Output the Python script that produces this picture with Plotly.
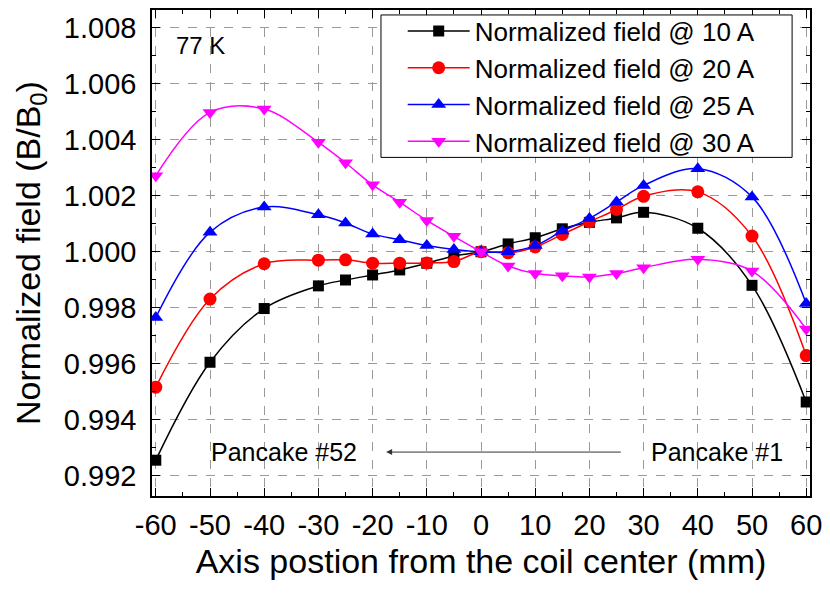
import plotly.graph_objects as go

positions = [-60, -50, -40, -30, -25, -20, -15, -10, -5, 0, 5, 10, 15, 20, 25, 30, 40, 50, 60]

field_10A = [0.99255, 0.99605, 0.99797, 0.99878, 0.99899, 0.99917, 0.99935, 0.99959, 0.99985, 1.00000,
             1.00028, 1.00050, 1.00082, 1.00105, 1.00121, 1.00141, 1.00084, 0.99880, 0.99463]
field_20A = [0.99516, 0.99831, 0.99957, 0.99970, 0.99971, 0.99959, 0.99959, 0.99960, 0.99965, 1.00000,
             0.99996, 1.00017, 1.00062, 1.00107, 1.00151, 1.00198, 1.00214, 1.00056, 0.99629]
field_25A = [0.99765, 1.00070, 1.00160, 1.00132, 1.00103, 1.00063, 1.00043, 1.00022, 1.00008, 1.00000,
             1.00000, 1.00022, 1.00074, 1.00119, 1.00178, 1.00237, 1.00297, 1.00196, 0.99815]
field_30A = [1.00272, 1.00498, 1.00510, 1.00391, 1.00318, 1.00239, 1.00177, 1.00112, 1.00055, 1.00000,
             0.99949, 0.99922, 0.99914, 0.99910, 0.99922, 0.99943, 0.99973, 0.99931, 0.99724]

series = [
    ("Normalized field @ 10 A", field_10A, "#000000", "square", 11),
    ("Normalized field @ 20 A", field_20A, "#ff0000", "circle", 13),
    ("Normalized field @ 25 A", field_25A, "#0000ff", "triangle-up", 13),
    ("Normalized field @ 30 A", field_30A, "#ff00ff", "triangle-down", 13),
]

x_ticks = [-60, -50, -40, -30, -20, -10, 0, 10, 20, 30, 40, 50, 60]
y_ticks = [0.992, 0.994, 0.996, 0.998, 1.000, 1.002, 1.004, 1.006, 1.008]

FONT = "Arial, Liberation Sans, sans-serif"

fig = go.Figure()
for name, vals, color, sym, size in series:
    fig.add_trace(go.Scatter(
        x=positions, y=vals, name=name, mode="lines+markers",
        line=dict(color=color, width=1.5, shape="spline", smoothing=1.0),
        marker=dict(symbol=sym, size=size, color=color, line=dict(width=0)),
    ))

fig.add_annotation(x=-51.8, y=1.00736, text="77 K", showarrow=False,
                   font=dict(family=FONT, size=24, color="black"))
fig.add_annotation(x=-36.4, y=0.99284, text="Pancake #52", showarrow=False,
                   font=dict(family=FONT, size=25, color="black"))
# "Pancake #1" label, with the arrow running from it towards "Pancake #52"
fig.add_annotation(x=-17.5, y=0.99284, ax=43.6, ay=0.99284, axref="x", ayref="y",
                   text="Pancake #1", showarrow=True, arrowhead=2, arrowsize=1.2,
                   arrowwidth=1, arrowcolor="#333333", borderpad=30,
                   font=dict(family=FONT, size=25, color="black"))

# legend frame (white box with black border, drawn over the grid/curves)
fig.add_shape(type="rect", xref="paper", yref="paper",
              x0=0.348, x1=0.9728, y0=0.6967, y1=0.9898,
              fillcolor="white", line=dict(color="black", width=1), layer="above")

axis_common = dict(
    showline=True, linecolor="black", linewidth=1.5, mirror="ticks",
    ticks="inside", ticklen=8, tickwidth=1.2, tickcolor="black",
    showgrid=True, gridcolor="#9a9a9a", griddash="dash", gridwidth=1,
    zeroline=False, tickfont=dict(family=FONT, size=29, color="black"),
)

fig.update_xaxes(
    range=[-60.7, 60.7], tickvals=x_ticks, ticktext=[str(v) for v in x_ticks],
    minor=dict(dtick=5, tick0=0, ticks="inside", ticklen=4, tickcolor="black", showgrid=False),
    title=dict(text="Axis postion from the coil center (mm)",
               font=dict(family=FONT, size=34, color="black"), standoff=10),
    ticklabelstandoff=2,
    **axis_common,
)
fig.update_yaxes(
    range=[0.99127, 1.00864], tickvals=y_ticks, ticktext=[f"{v:.3f}" for v in y_ticks],
    minor=dict(dtick=0.001, tick0=0.992, ticks="inside", ticklen=4, tickcolor="black", showgrid=False),
    title=dict(text="Normalized field (B/B<sub>0</sub>)",
               font=dict(family=FONT, size=34, color="black"), standoff=13),
    ticklabelstandoff=8,
    **axis_common,
)

fig.update_layout(
    width=830, height=593,
    margin=dict(l=152, r=17, t=8, b=97),
    paper_bgcolor="white", plot_bgcolor="white",
    showlegend=True,
    legend=dict(x=0.381, y=1.005, xanchor="left", yanchor="top",
                bgcolor="rgba(0,0,0,0)", borderwidth=0,
                font=dict(family=FONT, size=26, color="black"),
                tracegroupgap=0, itemwidth=62),
)

fig.write_html("out.html")
